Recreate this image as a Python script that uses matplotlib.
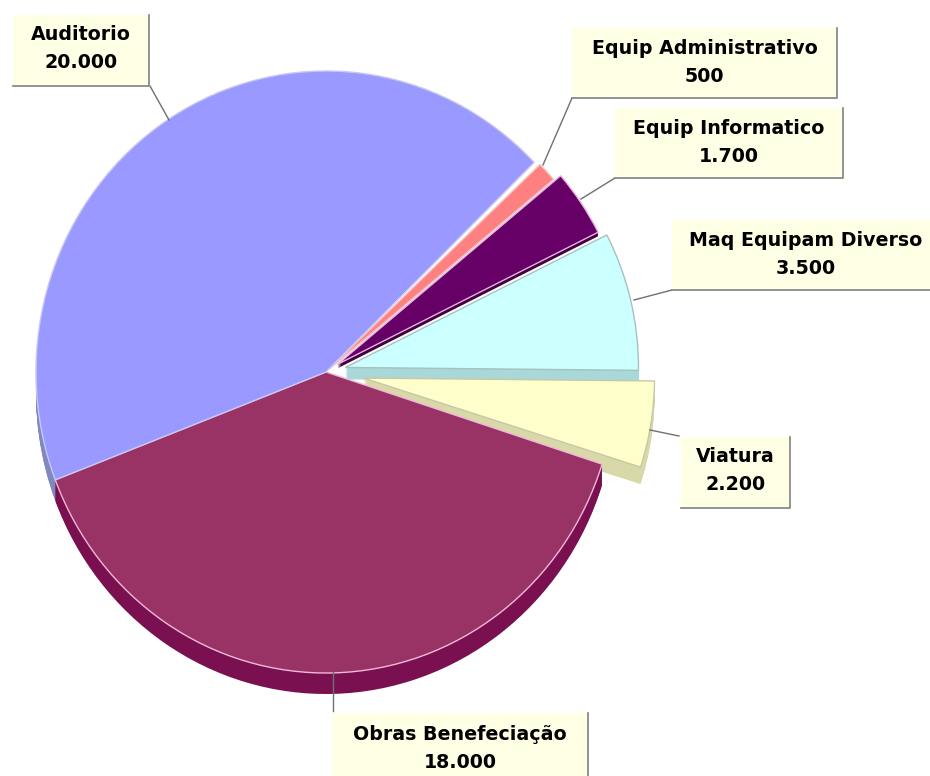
import matplotlib
matplotlib.use('Agg')
import matplotlib.pyplot as plt
from matplotlib.patches import Rectangle
from matplotlib.transforms import Affine2D

# dados
categorias = ['Obras Benefeciação', 'Viatura', 'Maq Equipam Diverso',
              'Equip Informatico', 'Equip Administrativo', 'Auditorio']
valores = [18000, 2200, 3500, 1700, 500, 20000]

# estilo de cada fatia
cores = ['#993366', '#FFFFCC', '#CCFFFF', '#660066', '#FF8080', '#9999FF']
cores_lado = ['#7A1050', '#D8D8A8', '#A8D8D8', '#400040', '#D87070', '#8088C0']
bordas = ['#F0B8D8', '#C8C8A8', '#A8C0C0', '#E8B0E0', '#F0C0C0', '#C8C8F0']
# o explode do pie fica em unidades de dados, aqui pixels
explode = [0, 38, 20, 14, 5, 0]
raios = [301, 291, 293, 292, 293, 301]
alturas = [21, 17, 12, 4, 0, 21]

# caixas: x0, y0, x1, y1 em pixels, e a linha ate a fatia
caixas = [(332, 713, 588, 790), (681, 437, 790, 508), (672, 220, 940, 290),
          (615, 108, 843, 178), (572, 28, 837, 98), (13, 15, 149, 86)]
linhas = [((333, 672), (333, 711)), ((650, 430), (679, 436)), ((672, 290), (634, 300)),
          ((615, 178), (581, 199)), ((572, 98), (543, 165)), ((150, 86), (169, 120))]

H = 776
cx0, cy0 = 326, H - 372
centro = (cx0, cy0)

fig = plt.figure(figsize=(9.3, 7.76), dpi=100)
ax = fig.add_axes([0, 0, 1, 1])

ax.set_xlim(0, 930)
ax.set_ylim(0, H)

# as duas fatias grandes sao uma elipse um pouco mais estreita
elipse = Affine2D().translate(-cx0, -cy0).scale(290 / 301, 1).translate(cx0, cy0) + ax.transData

# lado da pizza: a mesma pizza repetida descendo pixel a pixel
for d in range(1, max(alturas) + 1):
    lado, _ = ax.pie(valores, colors=cores_lado, explode=explode, startangle=201,
                     center=centro, radius=301, wedgeprops={'linewidth': 0})
    for i in range(len(valores)):
        if d > alturas[i]:
            lado[i].set_visible(False)
        cx, cy = lado[i].center
        lado[i].set_center((cx, cy - d))
        lado[i].set_radius(raios[i])
        lado[i].set_zorder(1)
    lado[0].set_zorder(3)
    lado[5].set_zorder(0.5)
    lado[0].set_transform(elipse)
    lado[5].set_transform(elipse)
    # o lado do Auditorio so aparece na esquerda
    lado[5].set_theta1(150)

topo, _ = ax.pie(valores, colors=cores, explode=explode, startangle=201,
                 center=centro, radius=301, wedgeprops={'linewidth': 1})
for i in range(len(valores)):
    topo[i].set_radius(raios[i])
    topo[i].set_edgecolor(bordas[i])
    topo[i].set_zorder(2)

# a fatia maior fica por cima da viatura
topo[0].set_zorder(4)
topo[5].set_zorder(4)
topo[0].set_transform(elipse)
topo[5].set_transform(elipse)

ax.set_xlim(0, 930)
ax.set_ylim(0, H)
ax.set_aspect('auto')
ax.axis('off')

for i in range(len(categorias)):
    x0, y0, x1, y1 = caixas[i]
    (lx0, ly0), (lx1, ly1) = linhas[i]
    ax.plot([lx0, lx1], [H - ly0, H - ly1], color='#707070', lw=1, zorder=5)
    ax.add_patch(Rectangle((x0, H - y1), x1 - x0, y1 - y0, facecolor='#FFFFE6',
                           edgecolor='none', zorder=6))
    ax.plot([x1, x1, x0], [H - y0, H - y1, H - y1], color='#808080', lw=1.2, zorder=7)
    texto = '%s\n%s' % (categorias[i], format(valores[i], ',').replace(',', '.'))
    tx = (x0 + x1) / 2
    if i == 2:
        tx = 806
    ty = y0 + 34
    if i == 0:
        ty = 749
    ax.text(tx, H - ty, texto, ha='center', va='center', fontsize=13.7,
            fontweight='bold', family='DejaVu Sans', color='black',
            linespacing=1.6, zorder=8)

fig.savefig('out.png', dpi=100, facecolor='white')
